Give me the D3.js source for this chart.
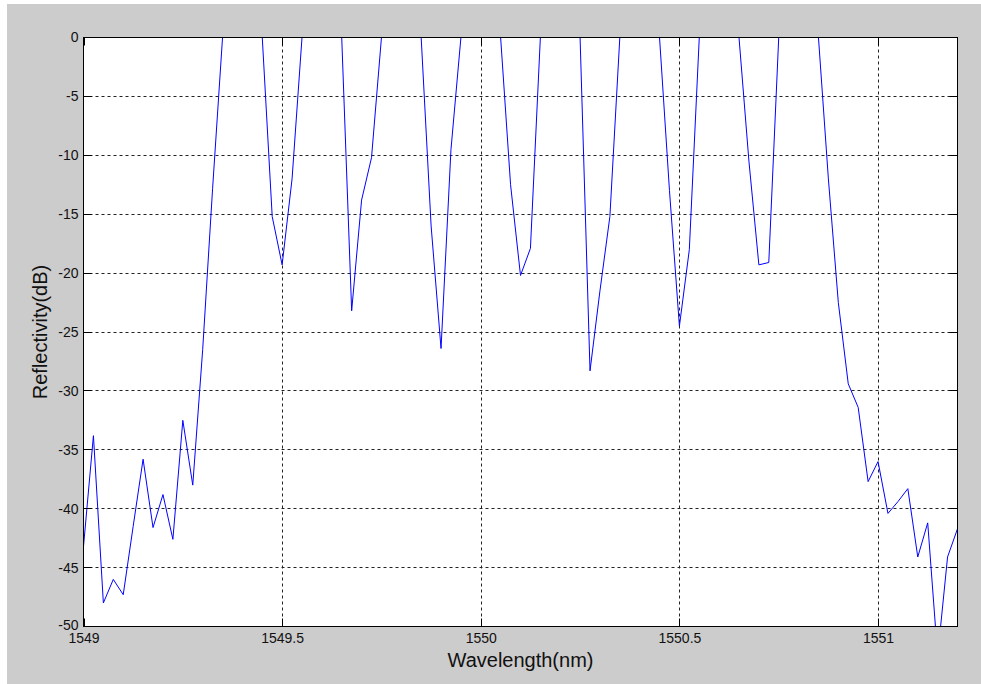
<!DOCTYPE html>
<html>
<head>
<meta charset="utf-8">
<script src="https://cdn.jsdelivr.net/npm/d3@7/dist/d3.min.js"></script>
<style>
  html, body { margin: 0; padding: 0; background: #ffffff; }
  svg { display: block; }
  text { font-family: "Liberation Sans", Arial, sans-serif; fill: #111; }
</style>
</head>
<body>
<svg id="chart" width="981" height="684"></svg>
<script>
// Wavelength samples (nm) of the reflection spectrum
const wavelengths = [
  1549.000, 1549.025, 1549.050, 1549.075, 1549.100, 1549.125, 1549.150, 1549.175, 1549.200, 1549.225,
  1549.250, 1549.275, 1549.300, 1549.325, 1549.350, 1549.375, 1549.400, 1549.425, 1549.450, 1549.475,
  1549.500, 1549.525, 1549.550, 1549.575, 1549.600, 1549.625, 1549.650, 1549.675, 1549.700, 1549.725,
  1549.750, 1549.775, 1549.800, 1549.825, 1549.850, 1549.875, 1549.900, 1549.925, 1549.950, 1549.975,
  1550.000, 1550.025, 1550.050, 1550.075, 1550.100, 1550.125, 1550.150, 1550.175, 1550.200, 1550.225,
  1550.250, 1550.275, 1550.300, 1550.325, 1550.350, 1550.375, 1550.400, 1550.425, 1550.450, 1550.475,
  1550.500, 1550.525, 1550.550, 1550.575, 1550.600, 1550.625, 1550.650, 1550.675, 1550.700, 1550.725,
  1550.750, 1550.775, 1550.800, 1550.825, 1550.850, 1550.875, 1550.900, 1550.925, 1550.950, 1550.975,
  1551.000, 1551.025, 1551.050, 1551.075, 1551.100, 1551.125, 1551.150, 1551.175, 1551.200
];

// Measured reflectivity (dB) at each wavelength
const reflectivity = [
  -43.2, -33.8, -48.0, -46.0, -47.3, -41.5, -35.8, -41.6, -38.8, -42.6,
  -32.5, -38.0, -26.5, -12.8, 0, 0, 0, 0, 0, -15.2,
  -19.3, -12.0, 0, 0, 0, 0, 0, -23.2, -13.8, -10.2,
  0, 0, 0, 0, 0, -16.0, -26.4, -9.5, 0, 0,
  0, 0, 0, -12.5, -20.2, -17.9, 0, 0, 0, 0,
  0, -28.3, -21.5, -15.2, 0, 0, 0, 0, 0, -13.0,
  -24.5, -18.0, 0, 0, 0, 0, 0, -10.5, -19.3, -19.1,
  0, 0, 0, 0, 0, -12.0, -22.5, -29.4, -31.4, -37.7,
  -36.0, -40.4, -39.4, -38.3, -44.1, -41.2, -52.5, -44.1, -41.7
];

const xTicks = [1549, 1549.5, 1550, 1550.5, 1551];
const xTickLabels = ["1549", "1549.5", "1550", "1550.5", "1551"];
const yTicks = [0, -5, -10, -15, -20, -25, -30, -35, -40, -45, -50];
const yTickLabels = ["0", "-5", "-10", "-15", "-20", "-25", "-30", "-35", "-40", "-45", "-50"];

const xLabel = "Wavelength(nm)";
const yLabel = "Reflectivity(dB)";

const svg = d3.select("#chart");

// figure background
svg.append("rect")
  .attr("x", 7).attr("y", 4)
  .attr("width", 974).attr("height", 680)
  .attr("fill", "#cccccc");

const plotL = 83.5, plotR = 957.5, plotT = 37.5, plotB = 626.5;

const x = d3.scaleLinear().domain([1549, 1551.2]).range([plotL, plotR]);
const y = d3.scaleLinear().domain([-50, 0]).range([plotB, plotT]);

// axes area
svg.append("rect")
  .attr("x", plotL).attr("y", plotT)
  .attr("width", plotR - plotL).attr("height", plotB - plotT)
  .attr("fill", "#ffffff");

svg.append("clipPath").attr("id", "plotClip")
  .append("rect")
  .attr("x", plotL).attr("y", plotT)
  .attr("width", plotR - plotL).attr("height", plotB - plotT);

// dotted grid
const grid = svg.append("g").attr("stroke", "#222").attr("stroke-width", 1)
  .attr("stroke-dasharray", "3,3").attr("fill", "none");

grid.selectAll("line.gx").data(xTicks.slice(1)).join("line")
  .attr("class", "gx")
  .attr("x1", d => Math.round(x(d)) + 0.5).attr("x2", d => Math.round(x(d)) + 0.5)
  .attr("y1", plotT).attr("y2", plotB);

grid.selectAll("line.gy").data(yTicks.slice(1, -1)).join("line")
  .attr("class", "gy")
  .attr("x1", plotL).attr("x2", plotR)
  .attr("y1", d => Math.round(y(d) - 0.5) + 0.5).attr("y2", d => Math.round(y(d) - 0.5) + 0.5);

// spectrum trace
const points = wavelengths.map((w, i) => [w, reflectivity[i]]);
svg.append("path")
  .datum(points)
  .attr("clip-path", "url(#plotClip)")
  .attr("fill", "none")
  .attr("stroke", "#0000ff")
  .attr("stroke-width", 1)
  .attr("d", d3.line().x(d => x(d[0])).y(d => y(d[1])));

// inward tick marks on all four sides
const tickLen = 8;
const ticks = svg.append("g").attr("stroke", "#000").attr("stroke-width", 1);
xTicks.forEach(t => {
  const px = Math.round(x(t)) + 0.5;
  ticks.append("line").attr("x1", px).attr("x2", px).attr("y1", plotB).attr("y2", plotB - tickLen);
  ticks.append("line").attr("x1", px).attr("x2", px).attr("y1", plotT).attr("y2", plotT + tickLen);
});
yTicks.forEach(t => {
  const py = Math.round(y(t) - 0.5) + 0.5;
  ticks.append("line").attr("x1", plotL).attr("x2", plotL + tickLen).attr("y1", py).attr("y2", py);
  ticks.append("line").attr("x1", plotR).attr("x2", plotR - tickLen).attr("y1", py).attr("y2", py);
});

// axes box
svg.append("rect")
  .attr("x", plotL).attr("y", plotT)
  .attr("width", plotR - plotL).attr("height", plotB - plotT)
  .attr("fill", "none").attr("stroke", "#000").attr("stroke-width", 1);

// tick labels
const xAxis = d3.axisBottom(x).tickValues(xTicks)
  .tickFormat((d, i) => xTickLabels[i]).tickSize(0).tickPadding(7);
const gx = svg.append("g").attr("transform", `translate(0,${plotB})`).call(xAxis);
gx.select(".domain").remove();
gx.selectAll("text").attr("font-size", 14).attr("font-family", null).style("fill", "#111");

const yAxis = d3.axisLeft(y).tickValues(yTicks)
  .tickFormat((d, i) => yTickLabels[i]).tickSize(0).tickPadding(5);
const gy = svg.append("g").attr("transform", `translate(${plotL},0)`).call(yAxis);
gy.select(".domain").remove();
gy.selectAll("text").attr("font-size", 14).attr("font-family", null).style("fill", "#111");
// lift the bottom-most label a little so it clears the first x label
gy.selectAll("text").filter((d, i) => i === yTicks.length - 1).attr("dy", "0.2em");

// axis titles
svg.append("text")
  .attr("x", (plotL + plotR) / 2).attr("y", 667)
  .attr("text-anchor", "middle")
  .attr("font-size", 20)
  .text(xLabel);

svg.append("text")
  .attr("transform", `translate(47,${(plotT + plotB) / 2}) rotate(-90)`)
  .attr("text-anchor", "middle")
  .attr("font-size", 20)
  .text(yLabel);
</script>
</body>
</html>
